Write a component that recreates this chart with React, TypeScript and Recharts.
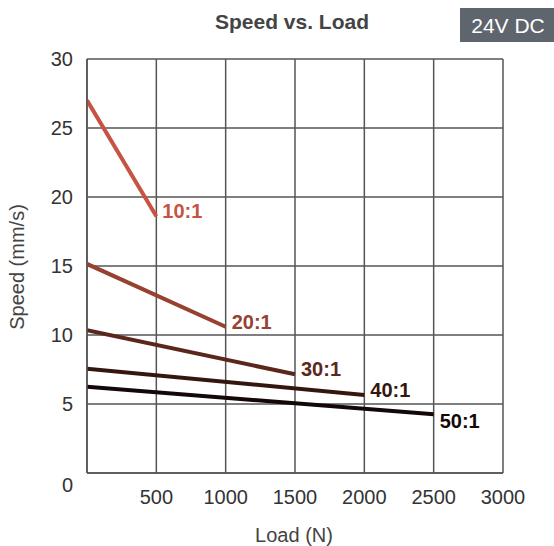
import React from 'react';
import { LineChart, Line, XAxis, YAxis, CartesianGrid } from 'recharts';

const loadTicks = [0, 500, 1000, 1500, 2000, 2500, 3000];
const speedTicks = [0, 5, 10, 15, 20, 25, 30];

const ratio10 = [
    { load: 0, speed: 27.0 },
    { load: 500, speed: 18.6 },
];
const ratio20 = [
    { load: 0, speed: 15.15 },
    { load: 1000, speed: 10.6 },
];
const ratio30 = [
    { load: 0, speed: 10.35 },
    { load: 1500, speed: 7.15 },
];
const ratio40 = [
    { load: 0, speed: 7.55 },
    { load: 2000, speed: 5.65 },
];
const ratio50 = [
    { load: 0, speed: 6.25 },
    { load: 2500, speed: 4.25 },
];

const series = [
    { name: '10:1', data: ratio10, color: '#c65443', dy: -5 },
    { name: '20:1', data: ratio20, color: '#974131', dy: -5 },
    { name: '30:1', data: ratio30, color: '#5a271c', dy: -5 },
    { name: '40:1', data: ratio40, color: '#35160f', dy: -5 },
    { name: '50:1', data: ratio50, color: '#140707', dy: 7 },
];

const font = '"Liberation Sans", Arial, sans-serif';
const gridColor = '#555';

const XTick = (props: any) => {
    const { x, y, payload } = props;
    if (payload.value === 0) return null;
    return (
        <text x={x} y={y + 31} textAnchor="middle" fontSize={20} fill="#333" fontFamily={font}>
            {payload.value}
        </text>
    );
};

const YTick = (props: any) => {
    const { x, y, payload } = props;
    const shift = payload.value === 0 ? 12 : 0;
    return (
        <text x={x - 14} y={y + 7 + shift} textAnchor="end" fontSize={20} fill="#333" fontFamily={font}>
            {payload.value}
        </text>
    );
};

const makeEndLabel = (name: string, color: string, dy: number, last: number) => (props: any) => {
    const { x, y, index } = props;
    if (index !== last) return null;
    return (
        <text x={x + 6} y={y + dy + 7} fontSize={20} fontWeight="bold" fill={color} fontFamily={font}>
            {name}
        </text>
    );
};

const App: React.FC = () => {
    return (
        <div style={{ position: 'absolute', left: 0, top: 0, width: 554, height: 546, background: '#fff' }}>
            <LineChart width={554} height={546} margin={{ top: 59, right: 51, bottom: 0, left: 0 }}>
                <CartesianGrid stroke={gridColor} strokeWidth={1.5} />
                <XAxis
                    type="number"
                    dataKey="load"
                    domain={[0, 3000]}
                    ticks={loadTicks}
                    height={73}
                    axisLine={{ stroke: gridColor, strokeWidth: 1.5 }}
                    tickLine={false}
                    tickSize={0}
                    tickMargin={0}
                    tick={<XTick />}
                    allowDataOverflow
                />
                <YAxis
                    type="number"
                    domain={[0, 30]}
                    ticks={speedTicks}
                    width={87}
                    axisLine={{ stroke: gridColor, strokeWidth: 1.5 }}
                    tickLine={false}
                    tickSize={0}
                    tickMargin={0}
                    tick={<YTick />}
                />
                {series.map((s) => (
                    <Line
                        key={s.name}
                        data={s.data}
                        dataKey="speed"
                        stroke={s.color}
                        strokeWidth={4}
                        dot={false}
                        activeDot={false}
                        isAnimationActive={false}
                        label={makeEndLabel(s.name, s.color, s.dy, s.data.length - 1)}
                    />
                ))}
            </LineChart>
            <svg width={554} height={546} style={{ position: 'absolute', left: 0, top: 0, pointerEvents: 'none' }}>
                <text x={292} y={29} textAnchor="middle" fontSize={21} fontWeight="bold" fill="#444" fontFamily={font}>
                    Speed vs. Load
                </text>
                <rect x={460} y={8} width={94} height={34} fill="#5e656c" />
                <text x={508} y={33} textAnchor="middle" fontSize={21} fill="#fff" fontFamily={font}>
                    24V DC
                </text>
                <text x={294} y={542} textAnchor="middle" fontSize={20} fill="#444" fontFamily={font}>
                    Load (N)
                </text>
                <text
                    x={0}
                    y={0}
                    transform="translate(24 267) rotate(-90)"
                    textAnchor="middle"
                    fontSize={20}
                    fill="#444"
                    fontFamily={font}
                >
                    Speed (mm/s)
                </text>
            </svg>
        </div>
    );
};

export default App;
